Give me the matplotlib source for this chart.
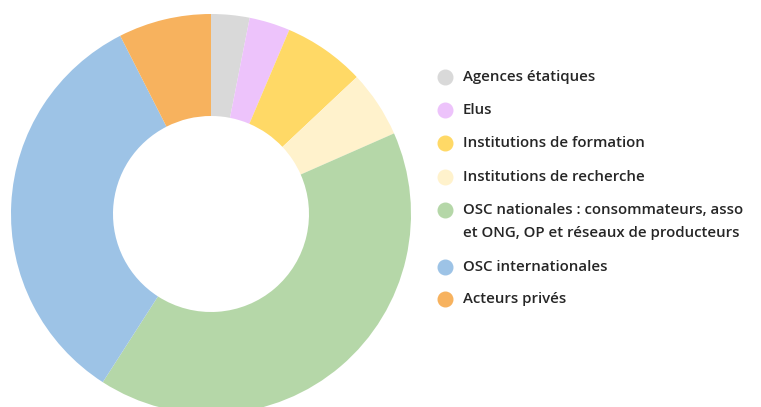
import matplotlib
matplotlib.use("Agg")
import matplotlib.pyplot as plt
from matplotlib.lines import Line2D

categories = [
    "Agences étatiques",
    "Elus",
    "Institutions de formation",
    "Institutions de recherche",
    "OSC nationales : consommateurs, asso\net ONG, OP et réseaux de producteurs",
    "OSC internationales",
    "Acteurs privés",
]
values = [3.1, 3.3, 6.6, 5.4, 40.7, 33.4, 7.5]
colors = ["#D9D9D9", "#EDC3FB", "#FFD966", "#FFF2CC", "#B5D7A8", "#9DC3E6", "#F7B25E"]

W, H = 761, 407
fig = plt.figure(figsize=(W / 100, H / 100), dpi=100)
fig.patch.set_facecolor("white")

cx, cy, R = 211, 214, 200
ax = fig.add_axes([(cx - R) / W, (H - cy - R) / H, 2 * R / W, 2 * R / H])
ax.pie(values, colors=colors, startangle=90, counterclock=False,
       wedgeprops=dict(width=0.51, linewidth=0))
ax.set_xlim(-1, 1)
ax.set_ylim(-1, 1)
ax.set_aspect("equal")
ax.axis("off")

# legend
marker_y = [77, 110, 143, 177, 210, 267, 299]
text_y = [77, 110, 143, 177, 221.5, 267, 299]
mx, tx = 445, 463
for lab, col, ym, yt in zip(categories, colors, marker_y, text_y):
    fig.add_artist(Line2D([mx / W], [1 - ym / H], marker="o", markersize=10.5,
                          color=col, linestyle="none", transform=fig.transFigure))
    fig.text(tx / W, 1 - yt / H, lab, ha="left", va="center",
             fontsize=10.8, family="Open Sans", fontweight="semibold", color="#262626",
             linespacing=1.75)
fig.savefig("out.png", dpi=100)
